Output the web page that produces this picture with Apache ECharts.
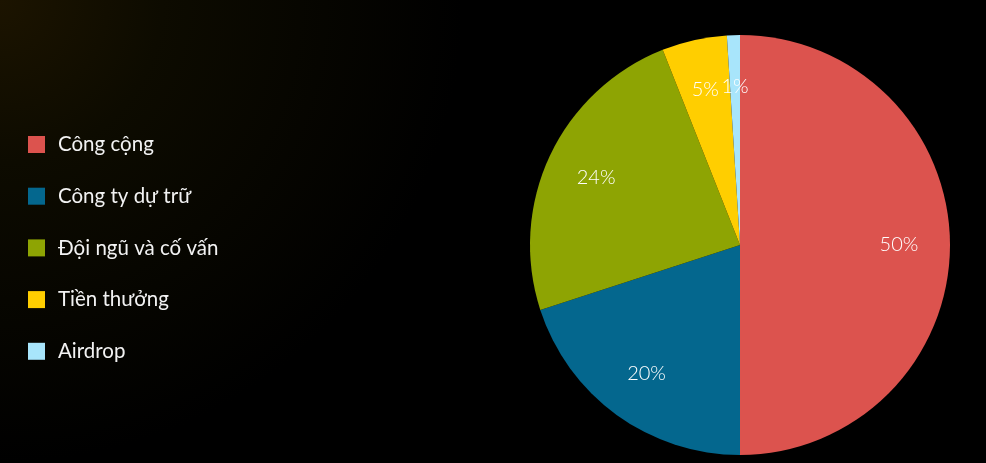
<!DOCTYPE html>
<html><head><meta charset="utf-8">
<script src="https://cdn.jsdelivr.net/npm/echarts@6/dist/echarts.min.js"></script>
<style>html,body{margin:0;padding:0;background:#000;}#c{width:986px;height:463px;}</style>
</head><body><div id="c"></div>
<script>
const categories = ['Công cộng', 'Công ty dự trữ', 'Đội ngũ và cố vấn', 'Tiền thưởng', 'Airdrop'];
const values = [50, 20, 24, 5, 1];
const colors = ['#dc534e', '#04678e', '#8ea403', '#ffce00', '#a8e5fb'];

const chart = echarts.init(document.getElementById('c'));
const mainData = categories.map((n, i) => ({ name: n, value: values[i], itemStyle: { color: colors[i] } }));
const labelData = categories.map((n, i) => ({ name: n, value: values[i] }));
chart.setOption({
  backgroundColor: {
    type: 'radial', x: 0, y: 0, r: 1.0,
    colorStops: [
      { offset: 0, color: '#1c1400' },
      { offset: 0.35, color: '#0d0b00' },
      { offset: 1, color: '#000000' }
    ]
  },
  animation: false,
  legend: {
    orient: 'vertical', left: 28, top: 134, padding: 0,
    itemWidth: 17, itemHeight: 17, itemGap: 30.7,
    icon: 'rect',
    data: categories,
    textStyle: { color: '#f2f2f2', fontFamily: 'Lato', fontSize: 20.5, padding: [0, 0, 0, 8] }
  },
  series: [
    {
      type: 'pie', center: [740, 245], radius: [0, 210],
      startAngle: 90, clockwise: true,
      label: { show: false }, labelLine: { show: false },
      itemStyle: { borderWidth: 0 },
      emphasis: { disabled: true },
      data: mainData
    },
    {
      type: 'pie', center: [740, 245], radius: [102, 210],
      startAngle: 90, clockwise: true, silent: true,
      itemStyle: { color: 'rgba(0,0,0,0)', borderWidth: 0 },
      label: {
        show: true, position: 'inside', formatter: '{c}%',
        color: '#ffffff', fontFamily: 'Lato', fontWeight: 300, fontSize: 20
      },
      labelLine: { show: false },
      emphasis: { disabled: true },
      data: labelData
    }
  ]
});
</script></body></html>
